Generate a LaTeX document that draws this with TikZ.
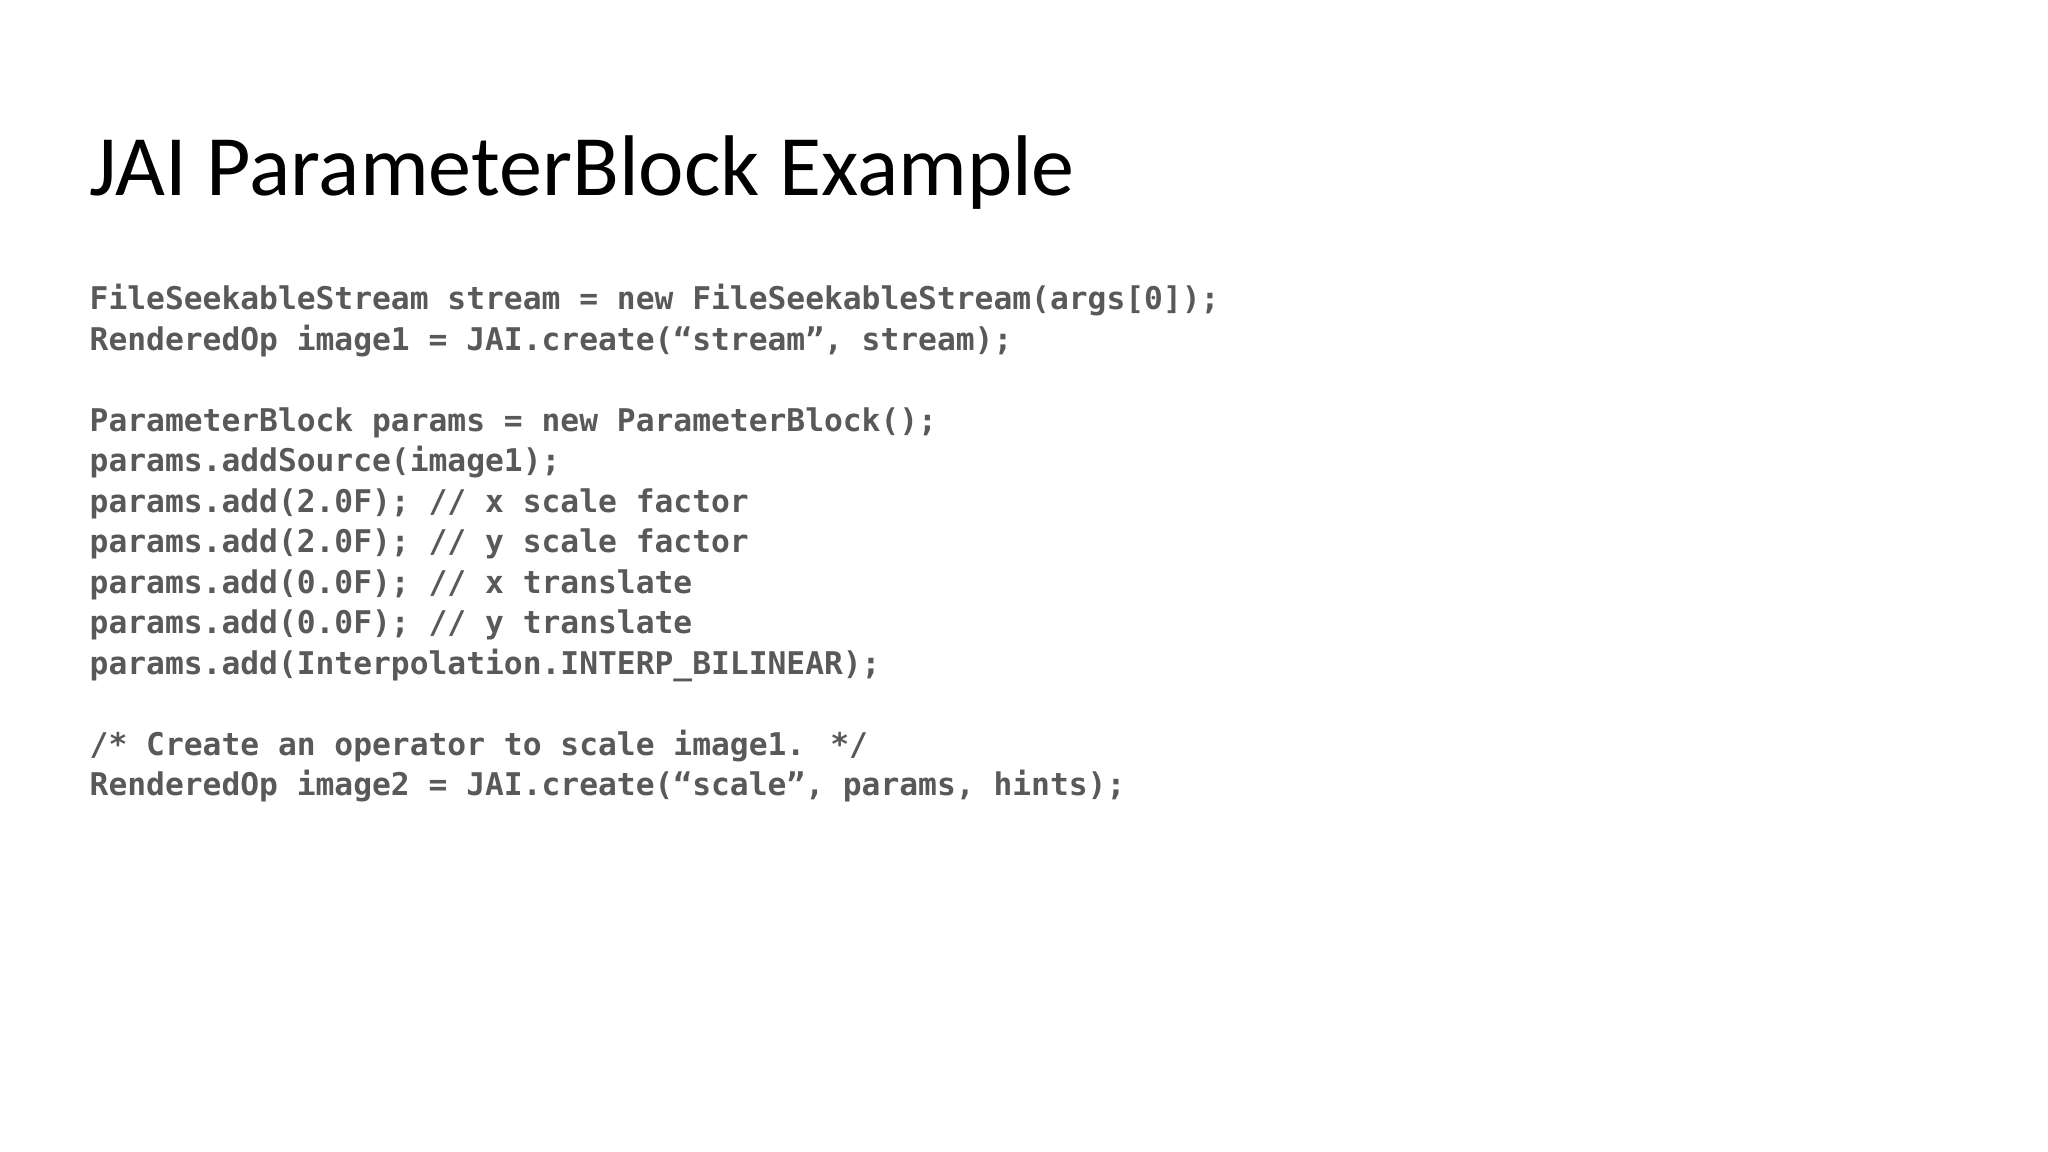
\documentclass[tikz,border=0pt]{standalone}
\usepackage{fontspec}
\setmainfont{Carlito}
\newfontfamily\codefont{DejaVu Sans Mono}
\definecolor{codegray}{HTML}{595959}
\begin{document}
\begin{tikzpicture}[x=1cm,y=1cm,
  codeline/.style={anchor=base west,inner sep=0pt,font=\codefont\bfseries\fontsize{8.9pt}{10pt}\selectfont,text=codegray},
  titletext/.style={anchor=base west,inner sep=0pt,font=\fontsize{24.5pt}{28pt}\selectfont,text=black}]
\useasboundingbox (0,0) rectangle (20.48,11.52);
\node[titletext] (title) at (0.89,9.56) {JAI ParameterBlock Example};
\foreach \i/\t in {0/{FileSeekableStream stream = new FileSeekableStream(args[0]);},
  1/{RenderedOp image1 = JAI.create(“stream”, stream);},
  3/{ParameterBlock params = new ParameterBlock();},
  4/{params.addSource(image1);},
  5/{params.add(2.0F); // x scale factor},
  6/{params.add(2.0F); // y scale factor},
  7/{params.add(0.0F); // x translate},
  8/{params.add(0.0F); // y translate},
  9/{params.add(Interpolation.INTERP\_BILINEAR);},
  11/{/* Create an operator to scale image1. */},
  12/{RenderedOp image2 = JAI.create(“scale”, params, hints);}}
  \node[codeline] (line\i) at (0.89,8.42-0.405*\i) {\t};
\end{tikzpicture}
\end{document}
